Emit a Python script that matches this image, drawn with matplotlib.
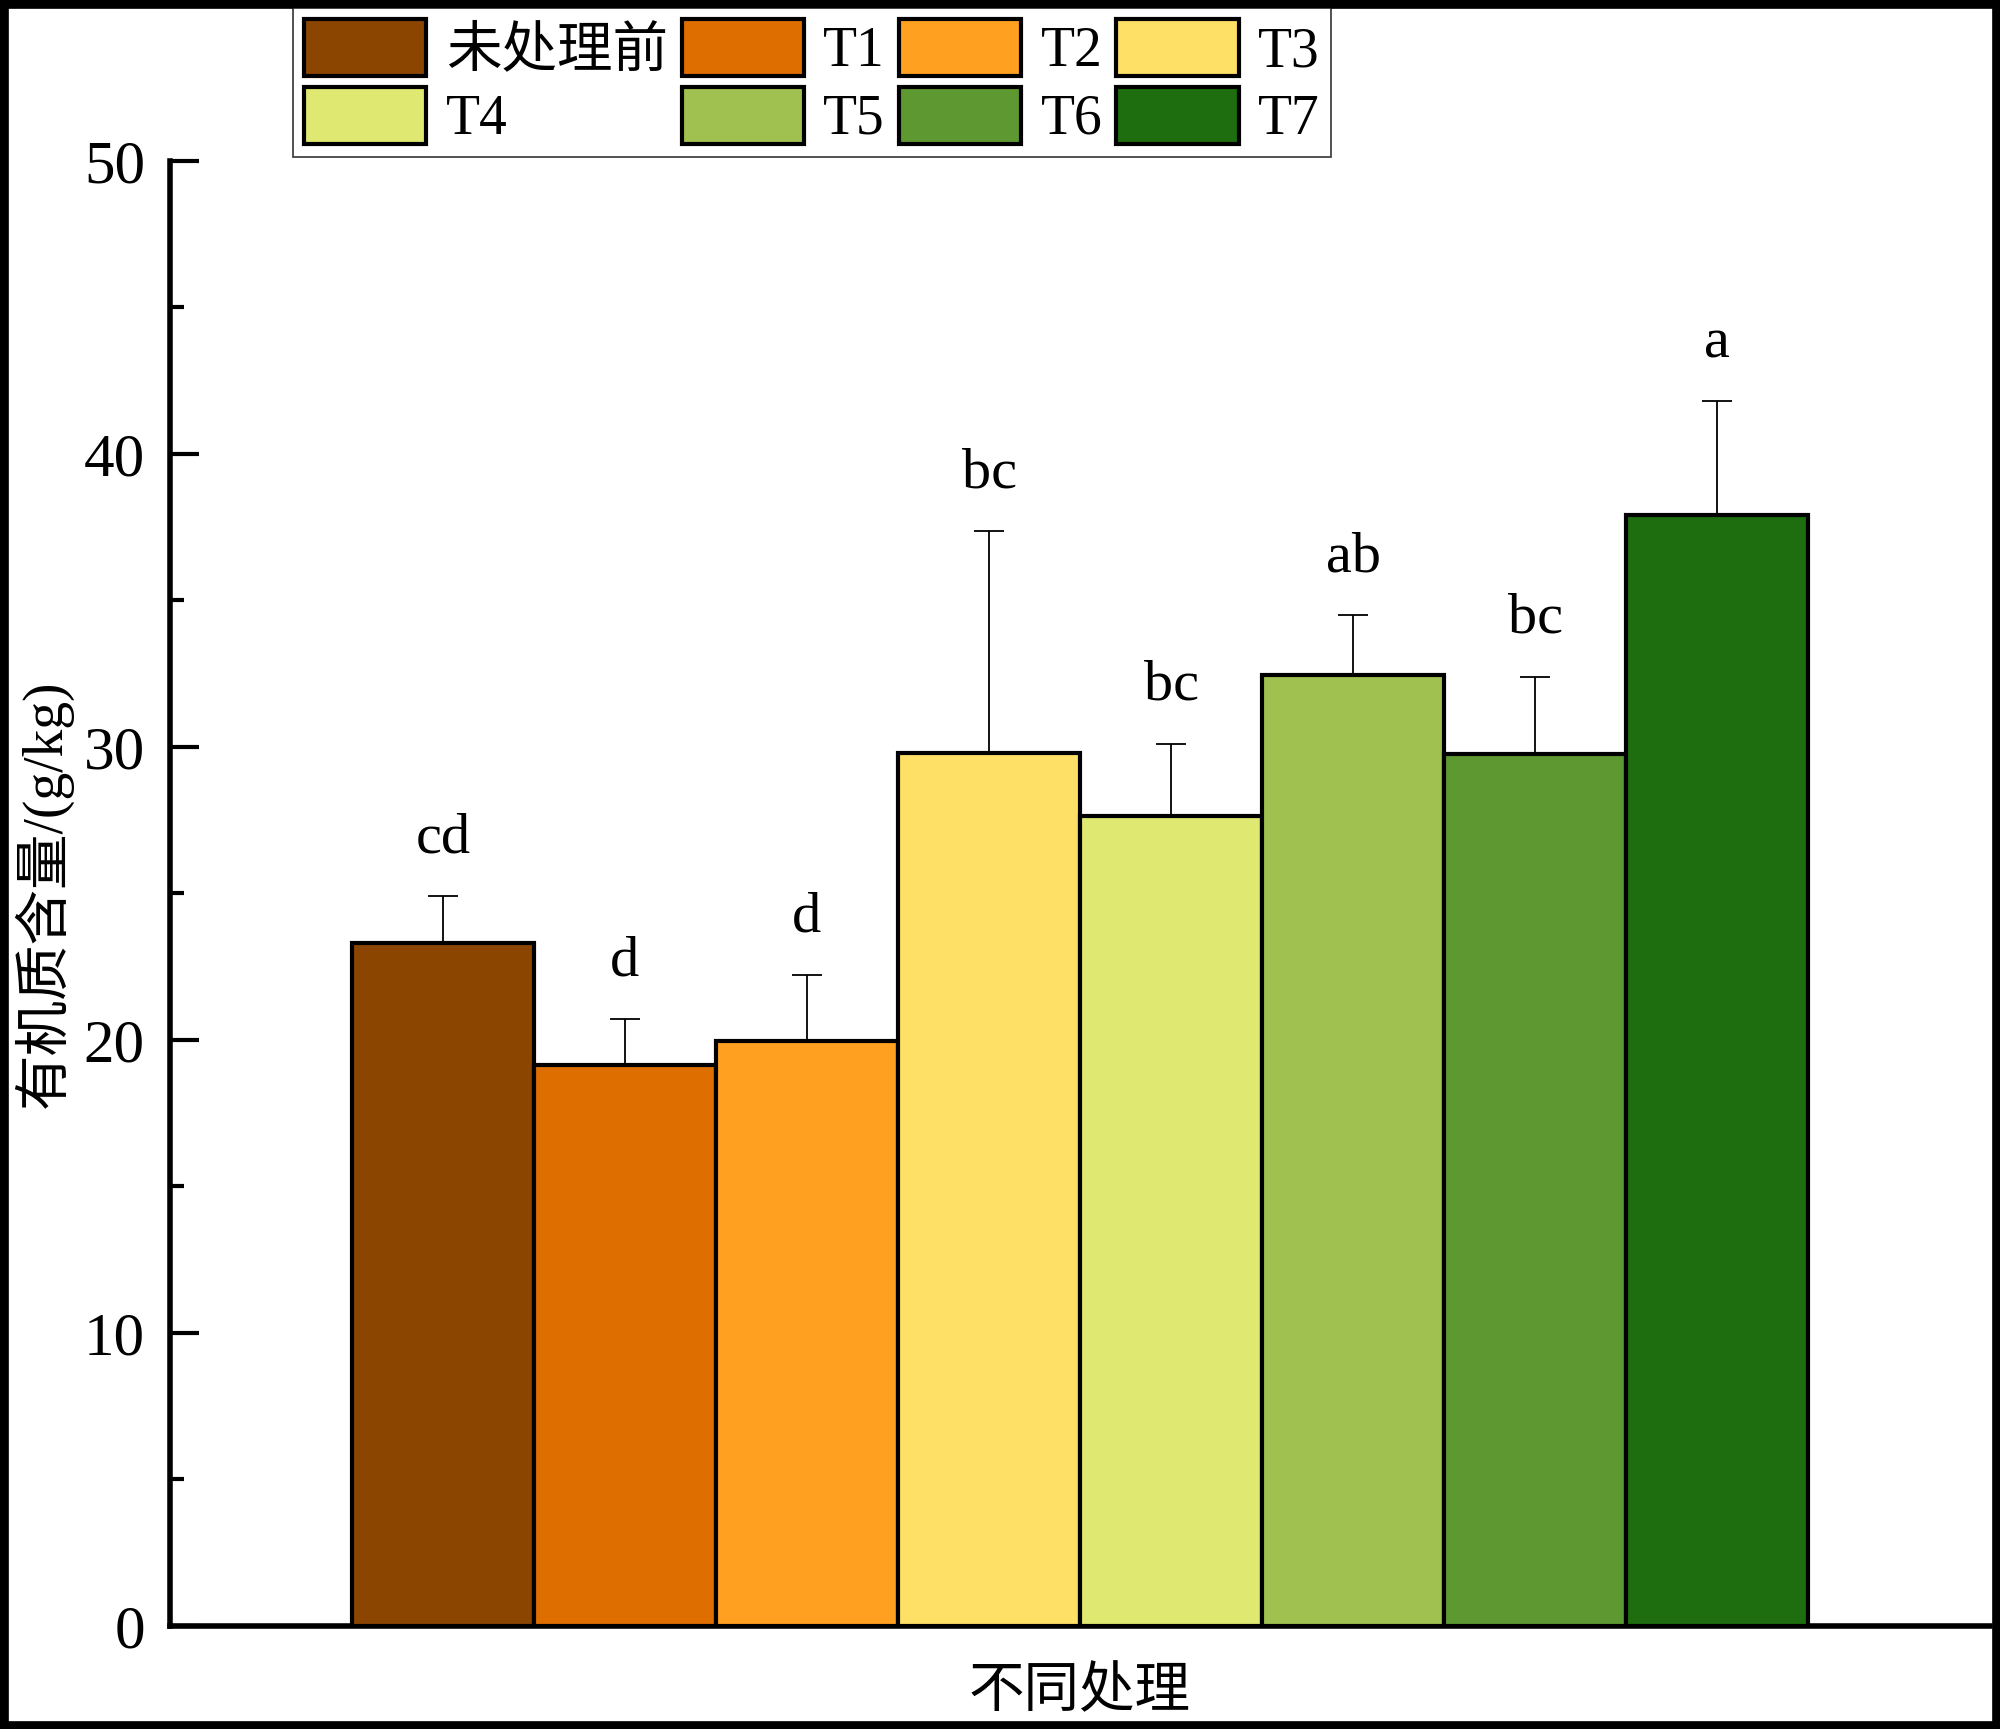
import numpy as np
import matplotlib.pyplot as plt
from matplotlib.patches import Rectangle

plt.rcParams['font.family'] = ['Liberation Serif', 'Noto Sans CJK SC']

# Data
labels = ['未处理前', 'T1', 'T2', 'T3', 'T4', 'T5', 'T6', 'T7']
means = [23.3, 19.15, 19.95, 29.8, 27.65, 32.45, 29.75, 37.9]
err_up = [1.6, 1.55, 2.25, 7.55, 2.45, 2.05, 2.65, 3.9]
letters = ['cd', 'd', 'd', 'bc', 'bc', 'ab', 'bc', 'a']
colors = ['#8B4500', '#DE6E00', '#FFA020', '#FFE066',
          '#DFE870', '#A0C150', '#5D9830', '#1E6E10']

fig = plt.figure(figsize=(20, 17.29), dpi=100)
ax = fig.add_axes([0.085, 0.0596, 0.91, 0.8474])

x = np.arange(len(labels))
bars = ax.bar(x, means, width=1.0, color=colors, edgecolor='black',
              linewidth=3, label=labels, zorder=3)
ax.errorbar(x, means, yerr=[np.zeros(len(x)), err_up], fmt='none',
            ecolor='black', elinewidth=1.3, capsize=11, capthick=1.3, zorder=2)

for xi, m, e, s in zip(x, means, err_up, letters):
    ax.text(xi, m + e + 1.5, s, ha='center', va='baseline', fontsize=42)

ax.set_xlim(-1.5, 8.5)
ax.set_ylim(0, 50)
ax.set_yticks([0, 10, 20, 30, 40, 50])
ax.set_yticks([5, 15, 25, 35, 45], minor=True)
ax.set_xticks([])
ax.tick_params(axis='y', which='major', direction='in', length=21, width=3,
               labelsize=44, pad=18)
ax.tick_params(axis='y', which='minor', direction='in', length=10, width=3)
for side in ['top', 'right']:
    ax.spines[side].set_visible(False)
for side in ['left', 'bottom']:
    ax.spines[side].set_linewidth(4)

ax.set_ylabel('有机质含量/(g/kg)', fontsize=40, labelpad=8)
ax.set_xlabel('不同处理', fontsize=40, labelpad=30)

# legend filled row-wise: reorder for column-major filling
order = [0, 4, 1, 5, 2, 6, 3, 7]
handles = [bars[i] for i in order]
leg_labels = [labels[i] for i in order]
leg = fig.legend(handles, leg_labels, ncol=4, loc='upper left',
                 bbox_to_anchor=(293 / 2000, 1 - 8 / 1729), fontsize=40,
                 frameon=True, fancybox=False, edgecolor='black',
                 handlelength=2.2, handleheight=1.2, handletextpad=0.35,
                 columnspacing=0.25, labelspacing=0.15, borderpad=0.2,
                 borderaxespad=0)
leg.get_frame().set_linewidth(1.2)

# thick frame round the whole figure
fig.patches.append(Rectangle((0, 0), 1, 1, transform=fig.transFigure,
                             fill=False, edgecolor='black', linewidth=12,
                             clip_on=False))

fig.savefig('out.png', dpi=100)
